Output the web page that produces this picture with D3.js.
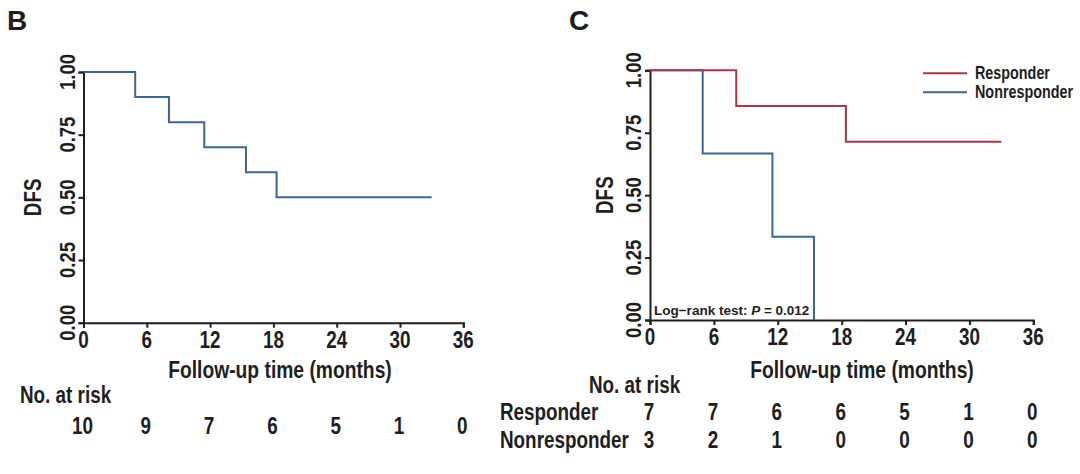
<!DOCTYPE html>
<html>
<head>
<meta charset="utf-8">
<script src="https://cdn.jsdelivr.net/npm/d3@7"></script>
<style>
  body { margin: 0; background: #fff; }
  svg text { font-family: "Liberation Sans", Arial, sans-serif; font-weight: bold; fill: #1e1e1e; }
</style>
</head>
<body>
<svg id="chart" width="1080" height="474"></svg>
<script>
// tick values shared by both panels
var xTicks = [0, 6, 12, 18, 24, 30, 36];
var yTicks = [0, 0.25, 0.5, 0.75, 1];

// panel B: all patients
var allTimes = [0, 4.9, 8.1, 11.45, 15.4, 18.3, 33.0];
var allSurv = [1, 0.9, 0.8, 0.7, 0.6, 0.5, 0.5];
var allRisk = [10, 9, 7, 6, 5, 1, 0];

// panel C: responder vs nonresponder
var groupNames = ["Responder", "Nonresponder"];
var respTimes = [0, 8.1, 18.4, 33.0];
var respSurv = [1, 0.857, 0.714, 0.714];
var nonTimes = [0, 4.95, 11.5, 15.4];
var nonSurv = [1, 0.667, 0.333, 0];
var respRisk = [7, 7, 6, 6, 5, 1, 0];
var nonRisk = [3, 2, 1, 0, 0, 0, 0];

var red = "#ad3644";
var blue = "#3b6795";
var squeeze = 0.82; // no narrow font installed, so condense Liberation Sans

var svg = d3.select("#chart");

function zip(t, s) {
    return t.map(function (v, i) { return { t: v, s: s[i] }; });
}

// transform for a condensed text at (x, y), optionally rotated
function pos(x, y, rot) {
    return "translate(" + x + "," + y + ")" + (rot ? " rotate(" + rot + ")" : "") + " scale(" + squeeze + ",1)";
}

function drawPanel(p) {
    var x = d3.scaleLinear().domain([0, 36]).range([p.left, p.right]);
    var y = d3.scaleLinear().domain([0, 1]).range([p.bottom, p.top]);
    var g = svg.append("g");

    g.append("text")
        .attr("x", p.letterX).attr("y", 30)
        .style("font-size", "28px")
        .text(p.letter);

    // axes
    var xAxis = g.append("g")
        .attr("transform", "translate(0," + p.bottom + ")")
        .call(d3.axisBottom(x).tickValues(xTicks).tickSize(5).tickFormat(""));
    var yAxis = g.append("g")
        .attr("transform", "translate(" + p.left + ",0)")
        .call(d3.axisLeft(y).tickValues(yTicks).tickSize(5).tickFormat(""));
    [xAxis, yAxis].forEach(function (a) {
        a.select(".domain").attr("stroke", "#1e1e1e").attr("stroke-width", 2);
        a.selectAll(".tick line").attr("stroke", "#1e1e1e").attr("stroke-width", 2);
    });

    g.selectAll(".xlab")
        .data(xTicks)
        .enter().append("text")
        .attr("transform", function (d) { return pos(x(d), p.bottom + 25); })
        .attr("text-anchor", "middle")
        .style("font-size", "23px")
        .text(function (d) { return d; });

    g.selectAll(".ylab")
        .data(yTicks)
        .enter().append("text")
        .attr("transform", function (d) { return pos(p.left - 9, y(d), -90); })
        .attr("text-anchor", "middle")
        .style("font-size", "22.5px")
        .text(function (d) { return d3.format(".2f")(d); });

    g.append("text")
        .attr("transform", pos(p.dfsX, (p.top + p.bottom) / 2, -90))
        .attr("text-anchor", "middle")
        .style("font-size", "23px")
        .text("DFS");

    g.append("text")
        .attr("transform", pos(p.titleX, 378))
        .attr("text-anchor", "middle")
        .style("font-size", "23.5px")
        .text("Follow-up time (months)");

    g.append("text")
        .attr("transform", pos(p.riskX, p.riskY))
        .style("font-size", "23px")
        .text("No. at risk");

    // survival curves
    var line = d3.line()
        .x(function (d) { return x(d.t); })
        .y(function (d) { return y(d.s); })
        .curve(d3.curveStepAfter);

    p.curves.forEach(function (c) {
        g.append("path")
            .datum(zip(c.times, c.surv))
            .attr("fill", "none")
            .attr("stroke", c.color)
            .attr("stroke-width", 2)
            .attr("d", line);
    });

    // number at risk rows
    p.rows.forEach(function (r) {
        if (r.label) {
            g.append("text")
                .attr("transform", pos(500, r.y))
                .style("font-size", "23px")
                .text(r.label);
        }
        g.selectAll(null)
            .data(r.values)
            .enter().append("text")
            .attr("transform", function (d, i) { return pos(x(xTicks[i]) - 1, r.y); })
            .attr("text-anchor", "middle")
            .style("font-size", "23px")
            .text(function (d) { return d; });
    });

    return { x: x, y: y, g: g };
}

drawPanel({
    letter: "B", letterX: 7,
    left: 83.5, right: 463.3, top: 72, bottom: 322.7,
    dfsX: 41, titleX: 280, riskX: 20, riskY: 402.7,
    curves: [{ times: allTimes, surv: allSurv, color: blue }],
    rows: [{ values: allRisk, y: 434 }]
});

var pc = drawPanel({
    letter: "C", letterX: 569,
    left: 650, right: 1033.3, top: 70.3, bottom: 320,
    dfsX: 613, titleX: 862, riskX: 589, riskY: 392.7,
    curves: [
        { times: nonTimes, surv: nonSurv, color: blue },
        { times: respTimes, surv: respSurv, color: red }
    ],
    rows: [
        { label: groupNames[0], values: respRisk, y: 420 },
        { label: groupNames[1], values: nonRisk, y: 448.3 }
    ]
});

// legend
var legend = pc.g.selectAll(".leg")
    .data(groupNames)
    .enter().append("g")
    .attr("transform", function (d, i) { return "translate(923," + (73.3 + i * 19) + ")"; });
legend.append("line")
    .attr("x1", 0).attr("x2", 44)
    .attr("stroke", function (d, i) { return i === 0 ? red : blue; })
    .attr("stroke-width", 2);
legend.append("text")
    .attr("transform", pos(52, 6))
    .style("font-size", "17.5px")
    .text(function (d) { return d; });

// log-rank annotation
var lr = pc.g.append("text")
    .attr("x", 654).attr("y", 315)
    .style("font-size", "13.5px");
lr.append("tspan").text("Log\u2212rank test: ");
lr.append("tspan").style("font-style", "italic").text("P");
lr.append("tspan").text(" = 0.012");
</script>
</body>
</html>
